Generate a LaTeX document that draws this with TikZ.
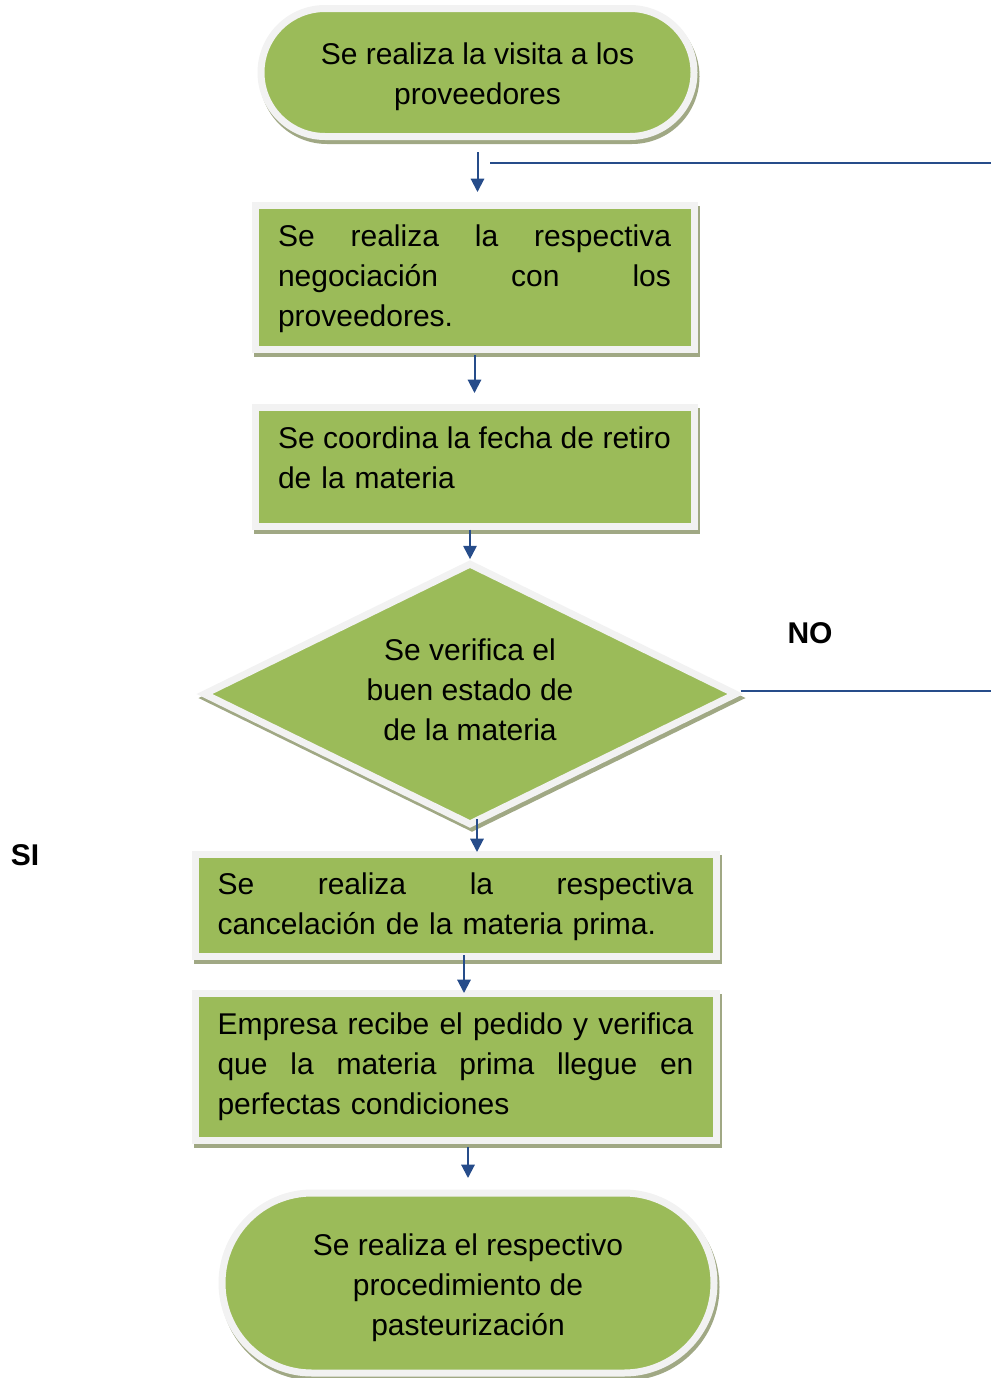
\documentclass[tikz,border=0pt]{standalone}
\usepackage{fontspec}
\setmainfont{Liberation Sans}
\usetikzlibrary{shapes.geometric,shapes.misc,shadows,arrows.meta,calc}
\definecolor{stepgreen}{RGB}{155,187,89}
\definecolor{rimgray}{RGB}{242,242,242}
\definecolor{shadowolive}{RGB}{160,168,132}
\definecolor{flowblue}{RGB}{38,76,138}
\tikzset{
  base/.style={fill=stepgreen, draw=rimgray, line width=5.25pt, inner sep=0pt,
    font=\fontsize{22.5pt}{30pt}\selectfont,
    general shadow={fill=shadowolive, draw=shadowolive, line width=5.25pt,
      shadow xshift=1.5pt, shadow yshift=-3pt}},
  terminal/.style={base, rounded rectangle, align=center},
  procbox/.style={base, rectangle, align=left},
  decision/.style={base, diamond, shape aspect=2, align=center},
  arr/.style={draw=flowblue, line width=1.5pt, -{Triangle[width=10pt,length=10pt]}},
  plainline/.style={draw=flowblue, line width=1.5pt},
  tag/.style={font=\bfseries\fontsize{22.5pt}{30pt}\selectfont}
}
% a justified line: words separated by \gap fill the whole text width
\newcommand{\fullline}[1]{\makebox[\linewidth][l]{#1}}
\newcommand{\gap}{\hspace{4pt plus 1fill}}
\begin{document}
\begin{tikzpicture}[x=0.75pt, y=-0.75pt]
  \useasboundingbox (0,0) rectangle (991,1378);

  % process steps
  \node[terminal, minimum width=324.75pt, minimum height=96pt] (t1) at (477.5,72.5)
    {\rule{0pt}{22.5pt}Se realiza la visita a los\\proveedores};
  \node[procbox, minimum width=329.25pt, minimum height=108pt, text width=294.75pt] (b1) at (474.5,277)
    {\fullline{\rule{0pt}{19.5pt}Se\gap realiza\gap la\gap respectiva}\\\fullline{negociación\gap con\gap los}\\proveedores.};
  \node[procbox, minimum width=329.25pt, minimum height=89.25pt, text width=294.75pt] (b2) at (474.5,466.5)
    {\fullline{Se\gap coordina\gap la\gap fecha\gap de\gap retiro}\\de la materia\rule[-14pt]{0pt}{14pt}};
  \node[decision, minimum width=400.5pt, minimum height=197pt] (dia) at (470,694)
    {Se verifica el\\buen estado de\\de la materia\rule[-6pt]{0pt}{6pt}};
  \node[procbox, minimum width=390.75pt, minimum height=76.5pt, text width=357pt] (b3) at (455.5,905)
    {\fullline{\rule{0pt}{19.5pt}Se\gap realiza\gap la\gap respectiva}\\cancelación de la materia prima.};
  \node[procbox, minimum width=390.75pt, minimum height=110.25pt, text width=357pt] (b4) at (455.5,1066.5)
    {\fullline{Empresa\gap recibe\gap el\gap pedido\gap y\gap verifica}\\\fullline{que\gap la\gap materia\gap prima\gap llegue\gap en}\\perfectas condiciones};
  \node[terminal, minimum width=369pt, minimum height=135pt] (t2) at (468,1283)
    {\rule{0pt}{24pt}Se realiza el respectivo\\procedimiento de\\pasteurización};

  % branch labels
  \node[tag] (no) at (810,633) {NO};
  \node[tag] (si) at (25,855) {SI};

  % main flow
  \draw[arr] ($(t1.south)+(0,12)$) -- ($(t1.south |- b1.north)+(0,-9.5)$);
  \draw[arr] ($(b1.south)+(0,2.5)$) -- ($(b1.south |- b2.north)+(0,-10.5)$);
  \draw[arr] (dia.north |- b2.south) -- (dia.north);
  \draw[arr] ($(dia.south)+(7,-10)$) -- ($(dia.south |- b3.north)+(7,1.5)$);
  \draw[arr] ($(b3.south)+(8.5,-4.5)$) -- ($(b3.south |- b4.north)+(8.5,3.5)$);
  \draw[arr] ($(t2.north |- b4.south)+(0,3.5)$) -- ($(t2.north)+(0,-11.5)$);

  % return path for the NO branch
  \coordinate (retA) at (490,163);
  \coordinate (retB) at (991,163);
  \coordinate (noB) at (991,691);
  \draw[plainline] (retB) -- (retA);
  \draw[plainline] (dia.east |- noB) -- (noB);
\end{tikzpicture}
\end{document}
